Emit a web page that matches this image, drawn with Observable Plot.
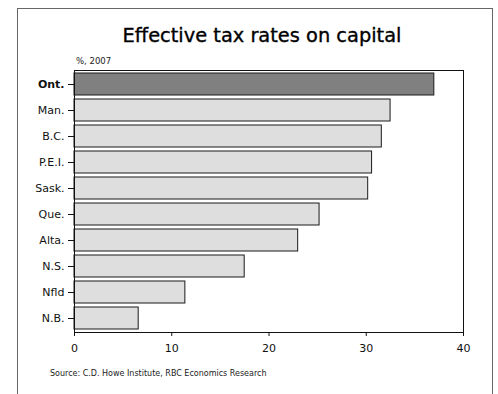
<!DOCTYPE html>
<html>
<head>
<meta charset="utf-8">
<script src="https://cdn.jsdelivr.net/npm/d3@7"></script>
<script src="https://cdn.jsdelivr.net/npm/@observablehq/plot@0.6"></script>
<style>
  html, body { margin: 0; padding: 0; background: #fff; }
  #wrap { position: relative; width: 498px; height: 394px; overflow: hidden; font-family: "DejaVu Sans", sans-serif; }
  #box { position: absolute; left: 17px; top: 8px; width: 476px; height: 400px; border: 1px solid #666; box-sizing: border-box; }
  #title { position: absolute; left: 0; width: 524px; top: 24px; text-align: center; font-family: "DejaVu Sans", sans-serif; font-weight: normal; font-size: 19.4px; color: #000; -webkit-text-stroke: 0.35px #000; }
  #sub { position: absolute; left: 76px; top: 56px; font-size: 8.5px; color: #222; }
  #src { position: absolute; left: 50px; top: 369px; font-size: 8px; color: #222; }
  #chart { position: absolute; left: 0; top: 0; }
</style>
</head>
<body>
<div id="wrap">
  <div id="box"></div>
  <div id="chart"></div>
  <div id="title">Effective tax rates on capital</div>
  <div id="sub">%, 2007</div>
  <div id="src">Source: C.D. Howe Institute, RBC Economics Research</div>
</div>
<script>
const provinces = ["Ont.", "Man.", "B.C.", "P.E.I.", "Sask.", "Que.", "Alta.", "N.S.", "Nfld", "N.B."];
const rates = [37.0, 32.5, 31.6, 30.6, 30.2, 25.2, 23.0, 17.5, 11.4, 6.6];
const xTicks = [0, 10, 20, 30, 40];
const highlight = "Ont.";

const data = provinces.map((p, i) => ({prov: p, value: rates[i]}));

const chart = Plot.plot({
  width: 498,
  height: 394,
  marginLeft: 74,
  marginRight: 35,
  marginTop: 70,
  marginBottom: 62,
  style: {fontFamily: "DejaVu Sans, sans-serif", fontSize: "11px", color: "#111", background: "transparent"},
  x: {domain: [0, 40]},
  y: {domain: provinces, paddingInner: 0.15, paddingOuter: 0.05},
  marks: [
    Plot.barX(data, {
      x: "value",
      y: "prov",
      fill: d => d.prov === highlight ? "#808080" : "#dedede",
      stroke: "#1a1a1a",
      strokeWidth: 1
    }),
    Plot.frame({stroke: "#111", strokeWidth: 1}),
    Plot.axisX({ticks: xTicks, tickSize: 4, tickPadding: 8, fontSize: 11, label: null, stroke: "#111"}),
    Plot.axisY({tickSize: 6, tickPadding: 4, fontSize: 11, label: null, stroke: "#111",
      tickFormat: d => d === highlight ? "" : d}),
    Plot.axisY([highlight], {tickSize: 6, tickPadding: 4, fontSize: 11, label: null, fontWeight: "bold", stroke: "#111"})
  ]
});
document.getElementById("chart").appendChild(chart);
</script>
</body>
</html>
